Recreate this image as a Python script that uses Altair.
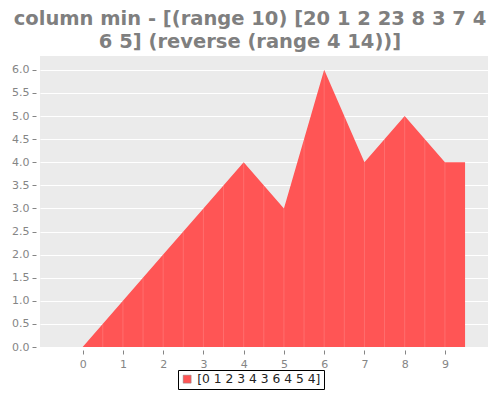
import altair as alt
import pandas as pd
import numpy as np

# ---- data ----
xs = list(range(10))
values = [0, 1, 2, 3, 4, 3, 6, 4, 5, 4]
series_label = "[0 1 2 3 4 3 6 4 5 4]"
title_lines = ["column min - [(range 10) [20 1 2 23 8 3 7 4", "6 5] (reverse (range 4 14))]"]
x_ticks = list(range(10))
y_ticks = [0.0, 0.5, 1.0, 1.5, 2.0, 2.5, 3.0, 3.5, 4.0, 4.5, 5.0, 5.5, 6.0]

RED = "#FF5555"
GREY = "#858585"

# area extends half a column beyond the first/last point
ax = [xs[0] - 0.5] + xs + [xs[-1] + 0.5]
ay = [values[0]] + values + [values[-1]]
area_df = pd.DataFrame({"x": ax, "y": ay, "s": series_label})

# faint column seams every half unit
seam_x = np.arange(xs[0] + 0.5, xs[-1] + 0.5, 0.5)
seam_df = pd.DataFrame({"x": seam_x, "y0": 0.0, "y": np.interp(seam_x, xs, values)})

xscale = alt.Scale(domain=[-1.06, 10.07], nice=False, zero=False)
yscale = alt.Scale(domain=[0, 6.3], nice=False, zero=False)

xaxis = alt.Axis(values=x_ticks, format="d", grid=False, domain=False, tickColor=GREY,
                 tickSize=4, offset=3, labelColor=GREY, labelFontSize=11,
                 labelFont="DejaVu Sans", labelPadding=4, title=None, labelOverlap=False)
yaxis = alt.Axis(values=y_ticks, format=".1f", grid=True, gridColor="white", gridWidth=1.2,
                 domain=False, tickColor=GREY, tickSize=4, offset=4, labelColor=GREY,
                 labelFontSize=11, labelFont="DejaVu Sans", labelPadding=3, title=None,
                 labelOverlap=False)

area = alt.Chart(area_df).mark_area(interpolate="linear", opacity=1).encode(
    x=alt.X("x:Q", scale=xscale, axis=xaxis),
    y=alt.Y("y:Q", scale=yscale, axis=yaxis),
    color=alt.Color("s:N", scale=alt.Scale(domain=[series_label], range=[RED]),
                    legend=alt.Legend(title=None, orient="none", legendX=138, legendY=314,
                                      direction="horizontal",
                                      strokeColor="black", fillColor="white", padding=3,
                                      symbolType="square", symbolSize=64,
                                      symbolStrokeColor="#888", symbolStrokeWidth=0.5,
                                      labelFontSize=12.3, labelFont="DejaVu Sans",
                                      labelOffset=4, labelColor="#222222")),
)

seams = alt.Chart(seam_df).mark_rule(color="white", opacity=0.15, strokeWidth=1).encode(
    x=alt.X("x:Q", scale=xscale, axis=xaxis),
    y=alt.Y("y0:Q", scale=yscale, axis=yaxis),
    y2="y:Q",
)

chart = (area + seams).properties(
    width=448,
    height=291,
    autosize=alt.AutoSizeParams(type="none"),
    padding={"left": 32, "top": 48, "right": 4, "bottom": 45},
    title=alt.TitleParams(text=title_lines, fontSize=19.5, font="DejaVu Sans", fontWeight="bold",
                          color="#7F7F7F", anchor="middle", dx=-14, lineHeight=23, offset=4),
).configure_view(fill="#EBEBEB", stroke=None)

chart.save("out.html", embed_options={"renderer": "svg", "actions": False})
